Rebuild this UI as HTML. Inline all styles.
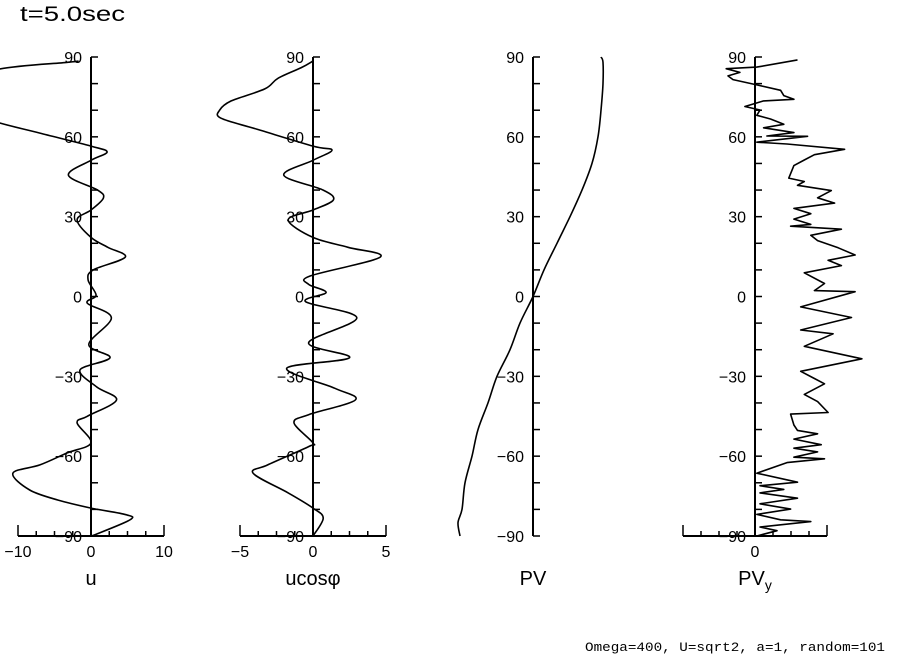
<!DOCTYPE html>
<html><head><meta charset="utf-8"><style>
html,body{margin:0;padding:0;background:#fff;}
svg{display:block;font-family:"Liberation Sans",sans-serif;}
</style></head><body>
<svg id="c" width="904" height="654" viewBox="0 0 904 654">
<text x="20" y="21" font-size="21" textLength="105" lengthAdjust="spacingAndGlyphs">t=5.0sec</text>
<text x="585" y="651" font-size="13" textLength="300" lengthAdjust="spacingAndGlyphs" font-family="Liberation Mono, monospace">Omega=400, U=sqrt2, a=1, random=101</text>
</svg>
<script>
const latTicks=[90,60,30,0,-30,-60,-90];
const uLat=[-90,-84,-82,-79.5,-76.5,-72.7,-66.4,-63.3,-58.8,-55,-47.5,-45,-38.9,-34,-27.6,-23,-18,-8,-2.5,0.5,6.2,10,14.8,18.5,22.2,28.8,32.5,37,40,45.6,51.2,54.3,56.5,61.4,65.2,70,75,80,85.5,88,88.5];
const uVal=[0.1,5.3,4.8,0,-4.5,-8.4,-10.7,-7,-3.3,0,-1.9,-0.5,3.5,0.8,-1.5,2.6,-0.3,2.8,-0.5,0.7,-0.4,0.3,4.7,2.3,0,-1.9,0,1.7,0.9,-3.1,0,2.2,0,-7,-12.5,-18,-22,-18,-12.5,-3.2,-1.7];
const ucLat=[-90,-83.3,-79.5,-73.8,-66.4,-63.3,-56.4,-55,-47.5,-44.4,-38.9,-34.5,-27,-23,-17.4,-8,-2,1.5,4.6,7.7,14.8,18.5,22.2,28.8,32.5,36.3,40,45.6,51.2,55,56.5,62.8,67,70,73.5,78,82,86,88.5];
const ucVal=[0,0.7,0,-1.7,-4.1,-3.1,-0.3,0,-1.3,-0.3,2.9,1.5,-1.8,2.5,-0.3,3,-0.5,0.9,-0.3,-0.2,4.6,2.4,0,-1.7,0,1.4,0.7,-2,0,1.3,0,-3.8,-6.3,-6.4,-5.6,-3.3,-2.4,-0.8,0];
const pvLat=[-90,-85,-80,-70,-60,-50,-40,-30,-20,-10,0,10,20,30,40,50,60,70,80,88,90];
const pvVal=[-1.46,-1.5,-1.42,-1.36,-1.22,-1.1,-0.9,-0.72,-0.46,-0.26,0,0.22,0.48,0.74,0.98,1.18,1.3,1.36,1.4,1.4,1.36];
const pvyLat=[88.9,86.2,85.6,84.2,82.9,81.5,79.5,77.5,75.5,74.1,73.5,71.4,70.1,68.1,66.7,64.7,63.4,61.6,60.3,60.2,58.0,57.3,55.3,53.3,51.3,49.2,44.5,43.2,41.8,39.8,37.1,35.1,33.1,31.1,29.1,27.1,26.4,25.3,23.0,21.0,18.3,15.6,13.6,11.6,8.9,4.9,2.2,1.8,-3.9,-7.9,-12.6,-14.0,-18.7,-23.4,-28.1,-30.8,-32.8,-36.8,-39.5,-43.6,-44.2,-48.3,-50.3,-51.6,-53.6,-55.7,-57.0,-58.4,-60.4,-61.0,-62.4,-66.4,-69.8,-71.1,-72.5,-73.8,-75.8,-77.9,-79.9,-81.9,-83.9,-84.6,-86.6,-88.0,-90];
const pvyVal=[1.18,0.05,-0.8,-0.42,-0.75,-0.61,0.05,0.71,0.8,1.08,0.24,-0.28,0.14,0.05,0.43,0.8,0.24,1.08,0.33,1.46,0.05,0.89,2.49,1.65,1.37,1.08,0.94,1.37,1.18,2.12,1.74,2.21,1.08,1.55,1.08,1.55,0.99,2.4,1.55,1.74,2.31,2.78,2.03,2.4,1.37,1.93,1.65,2.78,1.27,2.68,1.27,2.17,1.37,2.97,1.27,1.65,1.93,1.37,1.74,2.03,0.99,1.08,1.18,1.74,1.08,1.84,1.08,1.74,1.08,1.93,0.89,0.05,1.18,0.14,0.8,0.14,1.18,0.14,0.99,0.05,0.71,1.55,0.14,0.61,0.05];
const uTicks=[-10,0,10], ucTicks=[-5,0,5], pvyTicks=[0];

const svg=document.getElementById('c');
const NS='http://www.w3.org/2000/svg';
function el(t,a){const e=document.createElementNS(NS,t);for(const k in a)e.setAttribute(k,a[k]);svg.appendChild(e);return e;}
const yS=lat=>57+(90-lat)*(479/180);

function smoothPath(pts){
  let d='M'+pts[0][0].toFixed(1)+','+pts[0][1].toFixed(1);
  for(let i=0;i<pts.length-1;i++){
    const p0=pts[Math.max(i-1,0)],p1=pts[i],p2=pts[i+1],p3=pts[Math.min(i+2,pts.length-1)];
    const c1=[p1[0]+(p2[0]-p0[0])/6,p1[1]+(p2[1]-p0[1])/6];
    const c2=[p2[0]-(p3[0]-p1[0])/6,p2[1]-(p3[1]-p1[1])/6];
    d+='C'+c1[0].toFixed(1)+','+c1[1].toFixed(1)+' '+c2[0].toFixed(1)+','+c2[1].toFixed(1)+' '+p2[0].toFixed(1)+','+p2[1].toFixed(1);
  }
  return d;
}

function panel(name,ax,pxPerUnit,lats,vals,xTicks,xmin,xmax,minorStep,label,sub,smooth){
  const a=el('line',{x1:ax,y1:yS(90),x2:ax,y2:yS(-90),stroke:'#000','stroke-width':2});
  
  
  for(let l=-90;l<=90;l+=10){
    const t=el('line',{x1:ax,y1:yS(l),x2:ax+7,y2:yS(l),stroke:'#000','stroke-width':1.5});
    
    
  }
  latTicks.forEach(l=>{
    const t=el('text',{x:ax-9,y:yS(l)+6,'font-size':16,'text-anchor':'end'});
    t.textContent=(l<0?'\u2212':'')+Math.abs(l);
    
    
  });
  const xS=v=>ax+v*pxPerUnit;
  if(xTicks){
    const y0=yS(-90);
    const b=el('line',{x1:xS(xmin),y1:y0,x2:xS(xmax),y2:y0,stroke:'#000','stroke-width':2});
    
    
    for(let v=xmin;v<=xmax+1e-9;v+=minorStep){
      const big=(Math.abs(v-xmin)<1e-9||Math.abs(v-xmax)<1e-9);
      const t=el('line',{x1:xS(v),y1:y0,x2:xS(v),y2:y0-(big?11:5),stroke:'#000','stroke-width':1.5});
      
      
    }
    xTicks.forEach(v=>{
      const t=el('text',{x:xS(v),y:y0+21,'font-size':16,'text-anchor':'middle'});
      t.textContent=(v<0?'\u2212':'')+Math.abs(v);
      
      
    });
  }
  const pts=lats.map((l,i)=>[xS(vals[i]),yS(l)]);
  const d=smooth?smoothPath(pts):pts.map((p,i)=>(i?'L':'M')+p[0].toFixed(1)+','+p[1].toFixed(1)).join('');
  const p=el('path',{d:d,fill:'none',stroke:'#000','stroke-width':1.6,'stroke-linejoin':'round'});
  
  
  const lt=el('text',{x:ax,y:585,'font-size':20,'text-anchor':'middle'});
  lt.textContent=label;
  if(sub){const ts=document.createElementNS(NS,'tspan');ts.setAttribute('font-size',14);ts.setAttribute('dy',5);ts.textContent=sub;lt.appendChild(ts);}
  
  
}
panel('u',91,7.3,uLat,uVal,uTicks,-10,10,2.5,'u',null,true);
panel('ucos',313,14.6,ucLat,ucVal,ucTicks,-5,5,1.25,'ucos\u03C6',null,true);
panel('pv',533,50,pvLat,pvVal,null,0,0,1,'PV',null,true);
panel('pvy',755,36,pvyLat,pvyVal,pvyTicks,-2,2,0.5,'PV','y',false);
</script>
</body></html>
